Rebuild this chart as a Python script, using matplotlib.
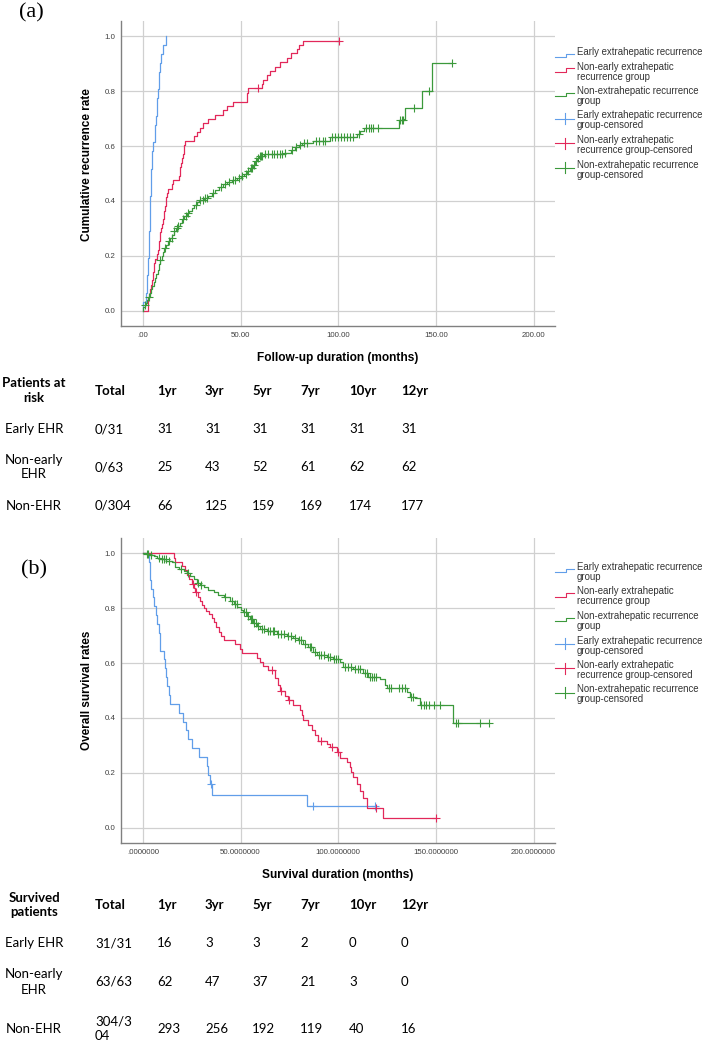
import numpy as np
import matplotlib
matplotlib.use('Agg')
import matplotlib.pyplot as plt
from matplotlib.lines import Line2D

# ---- (a) cumulative recurrence, step points ----
early_a_t = [0, 0.3, 1.5, 2.0, 2.2, 2.5, 2.7, 2.9, 3.1, 3.3, 3.5, 3.6, 3.8, 3.9, 4.0, 4.2,
             4.4, 4.5, 4.6, 5.4, 6.0, 6.3, 6.6, 7.0, 7.3, 7.6, 8.0, 8.5, 8.9, 9.1, 10.4, 11.6]
early_a_v = [0.0, 0.032, 0.065, 0.097, 0.129, 0.161, 0.194, 0.226, 0.258, 0.29, 0.323, 0.355,
             0.387, 0.419, 0.452, 0.484, 0.516, 0.548, 0.581, 0.613, 0.645, 0.677, 0.71, 0.742,
             0.774, 0.806, 0.839, 0.871, 0.903, 0.935, 0.968, 1.0]
early_a_cens = []

nonearly_a_t = [0, 2.4, 2.6, 2.8, 3.0, 3.4, 4.0, 4.5, 5.0, 5.2, 5.5, 5.8, 6.0, 7.0, 7.6, 8.0,
                8.4, 8.6, 8.9, 9.3, 9.9, 10.3, 10.6, 11.0, 11.3, 11.6, 12.0, 12.4, 13.0, 14.7,
                15.2, 18.5, 18.8, 19.1, 19.5, 19.8, 20.3, 20.8, 21.2, 21.6, 26.3, 27.8, 29.2,
                30.9, 33.5, 36.9, 41.2, 43.0, 46.3, 53.2, 53.5, 54.0, 60.9, 61.5, 63.4, 65.1,
                67.7, 70.3, 74.0, 76.0, 78.8, 80.0, 82.2, 100.2]
nonearly_a_v = [0.0, 0.016, 0.032, 0.048, 0.063, 0.079, 0.095, 0.111, 0.127, 0.143, 0.159,
                0.175, 0.19, 0.206, 0.222, 0.238, 0.254, 0.27, 0.286, 0.302, 0.317, 0.333,
                0.349, 0.365, 0.381, 0.397, 0.413, 0.429, 0.444, 0.46, 0.476, 0.492, 0.508,
                0.524, 0.54, 0.556, 0.571, 0.587, 0.603, 0.619, 0.635, 0.651, 0.667, 0.683,
                0.698, 0.714, 0.73, 0.746, 0.762, 0.778, 0.794, 0.81, 0.826, 0.842, 0.857,
                0.873, 0.889, 0.905, 0.921, 0.937, 0.952, 0.968, 0.984, 0.984]
nonearly_a_cens = [59.1, 100.2]

non_a_t = [0, 0.3, 1.0, 1.5, 2.2, 2.8, 3.5, 4.2, 4.8, 5.5, 6.2, 6.8, 7.5, 8.2, 8.8, 9.6, 10.3,
           11.0, 12.0, 12.8, 13.8, 14.8, 15.8, 17.0, 18.0, 19.0, 20.0, 21.0, 22.5, 23.5, 25.0,
           26.3, 27.5, 28.8, 31.5, 33.5, 35.5, 37.0, 38.8, 41.0, 43.0, 45.5, 48.0, 50.0, 52.0,
           53.5, 55.0, 56.5, 57.5, 58.5, 59.5, 62.0, 72.0, 76.0, 78.0, 80.0, 81.5, 87.0, 95.9,
           109.5, 111.3, 113.0, 131.0, 133.5, 134.4, 142.9, 148.0, 158.3]
non_a_v = [0.0, 0.013, 0.02, 0.03, 0.04, 0.05, 0.065, 0.08, 0.09, 0.105, 0.12, 0.135, 0.15,
           0.17, 0.185, 0.2, 0.215, 0.23, 0.24, 0.255, 0.265, 0.275, 0.29, 0.3, 0.31, 0.32,
           0.335, 0.345, 0.355, 0.365, 0.375, 0.385, 0.395, 0.405, 0.41, 0.418, 0.43, 0.44,
           0.452, 0.46, 0.468, 0.478, 0.485, 0.49, 0.5, 0.51, 0.52, 0.532, 0.545, 0.556, 0.565,
           0.57, 0.576, 0.585, 0.595, 0.605, 0.612, 0.62, 0.634, 0.645, 0.655, 0.664, 0.695,
           0.70, 0.737, 0.80, 0.903, 0.903]
non_a_cens = [1.2, 3.0, 9.0, 11.5, 13.3, 14.7, 16.0, 17.5, 18.2, 20.5, 22.0, 23.0, 27.0, 29.5,
              31.0, 32.0, 33.0, 36.0, 40.0, 42.0, 44.0, 46.0, 47.0, 49.0, 51.0, 53.0, 54.0,
              55.5, 56.0, 57.0, 58.0, 59.0, 60.0, 60.5, 61.0, 62.5, 64.0, 66.0, 67.0, 68.5,
              70.0, 71.0, 73.0, 76.5, 78.5, 80.5, 82.5, 84.0, 88.5, 90.0, 92.0, 93.5, 97.0,
              98.5, 100.0, 101.5, 103.0, 104.5, 106.0, 107.5, 110.5, 114.0, 116.0, 117.0,
              118.0, 120.5, 131.5, 132.5, 133.0, 139.0, 146.5, 158.3]

# ---- (b) overall survival ----
early_b_t = [0, 3.1, 3.4, 3.7, 4.3, 5.0, 5.6, 6.5, 7.3, 8.1, 8.6, 9.0, 10.7, 11.3, 11.8,
             12.6, 13.3, 13.8, 18.6, 20.7, 22.1, 23.3, 25.0, 28.9, 32.6, 33.5, 34.4, 35.2,
             83.9, 118.9]
early_b_v = [1.0, 0.968, 0.935, 0.903, 0.871, 0.839, 0.806, 0.774, 0.742, 0.71, 0.677, 0.645,
             0.613, 0.581, 0.548, 0.516, 0.484, 0.452, 0.419, 0.387, 0.355, 0.323, 0.29,
             0.258, 0.226, 0.194, 0.161, 0.121, 0.081, 0.081]
early_b_cens = [35.0, 87.3, 118.9]

nonearly_b_t = [0, 15.8, 16.3, 20.1, 21.5, 22.6, 23.5, 25.2, 26.0, 26.9, 28.0, 29.4, 30.3,
                31.4, 32.5, 34.0, 35.4, 36.2, 37.4, 38.8, 40.0, 41.3, 47.3, 49.8, 50.7, 58.4,
                60.0, 61.7, 64.3, 67.7, 69.4, 70.3, 72.8, 74.5, 77.0, 80.5, 81.3, 82.1, 84.7,
                86.4, 88.1, 89.8, 94.1, 95.8, 99.2, 100.9, 104.3, 106.0, 106.8, 107.7, 109.4,
                111.1, 112.8, 114.5, 123.0, 150.0]
nonearly_b_v = [1.0, 0.984, 0.968, 0.952, 0.937, 0.921, 0.905, 0.889, 0.873, 0.857, 0.841,
                0.825, 0.81, 0.80, 0.79, 0.778, 0.765, 0.749, 0.73, 0.712, 0.70, 0.685, 0.668,
                0.652, 0.636, 0.62, 0.604, 0.59, 0.574, 0.545, 0.52, 0.50, 0.479, 0.465,
                0.447, 0.429, 0.41, 0.392, 0.374, 0.356, 0.338, 0.318, 0.306, 0.294, 0.278,
                0.256, 0.241, 0.222, 0.205, 0.187, 0.16, 0.133, 0.11, 0.072, 0.036, 0.036]
nonearly_b_cens = [25.8, 27.3, 66.0, 70.5, 75.0, 91.0, 97.0, 100.0, 119.6, 150.0]

non_b_t = [0, 1.5, 3.0, 5.6, 7.0, 9.0, 12.0, 15.0, 16.5, 18.4, 20.9, 22.5, 24.3, 26.0, 27.7,
           29.5, 31.1, 33.5, 36.2, 38.5, 41.3, 44.7, 46.5, 48.2, 50.0, 51.5, 53.3, 54.9, 56.6,
           58.4, 60.0, 63.5, 68.6, 73.7, 77.0, 79.6, 82.1, 84.7, 87.2, 89.0, 94.1, 97.4,
           100.9, 102.6, 107.7, 112.8, 115.3, 121.3, 124.0, 125.0, 135.0, 136.6, 139.2, 141.7,
           158.7, 177.4]
non_b_v = [1.0, 0.997, 0.993, 0.99, 0.984, 0.978, 0.972, 0.966, 0.95, 0.942, 0.936, 0.927,
           0.918, 0.905, 0.893, 0.884, 0.875, 0.866, 0.857, 0.848, 0.839, 0.827, 0.815, 0.803,
           0.794, 0.785, 0.772, 0.761, 0.745, 0.735, 0.725, 0.718, 0.707, 0.698, 0.692, 0.682,
           0.67, 0.658, 0.64, 0.628, 0.622, 0.616, 0.604, 0.586, 0.58, 0.562, 0.549, 0.543,
           0.519, 0.51, 0.495, 0.477, 0.471, 0.447, 0.383, 0.383]
non_b_cens = [2.0, 2.6, 4.0, 8.0, 10.0, 11.0, 11.6, 13.5, 19.5, 23.0, 28.0, 30.0, 42.0, 45.5,
              47.0, 48.0, 52.0, 53.0, 54.0, 55.5, 56.0, 57.0, 58.0, 59.0, 61.0, 62.0, 64.0,
              65.0, 66.5, 67.0, 69.0, 70.5, 72.0, 74.5, 76.0, 78.0, 80.0, 81.0, 83.0, 85.5,
              86.0, 88.0, 90.0, 91.0, 92.5, 95.0, 96.0, 98.0, 99.0, 100.0, 103.5, 105.0,
              106.5, 108.5, 110.0, 111.0, 113.5, 114.5, 116.5, 117.5, 118.5, 119.5, 126.0,
              127.0, 131.0, 132.5, 134.0, 137.5, 138.5, 142.5, 144.0, 145.0, 146.5, 149.0,
              152.0, 160.5, 161.5, 172.5, 177.4]

# ---- tick labels / legends / tables ----
x_ticks = [0, 50, 100, 150, 200]
x_labels_a = [".00", "50.00", "100.00", "150.00", "200.00"]
x_labels_b = [".0000000", "50.0000000", "100.0000000", "150.0000000", "200.0000000"]
y_ticks = [0.0, 0.2, 0.4, 0.6, 0.8, 1.0]
y_labels = ["0.0", "0.2", "0.4", "0.6", "0.8", "1.0"]

legend_a = ["Early extrahepatic recurrence",
            "Non-early extrahepatic\nrecurrence group",
            "Non-extrahepatic recurrence\ngroup",
            "Early extrahepatic recurrence\ngroup-censored",
            "Non-early extrahepatic\nrecurrence group-censored",
            "Non-extrahepatic recurrence\ngroup-censored"]
legend_b = ["Early extrahepatic recurrence\ngroup"] + legend_a[1:]

table_cols = ["Total", "1yr", "3yr", "5yr", "7yr", "10yr", "12yr"]
row_names = ["Early EHR", "Non-early\nEHR", "Non-EHR"]
risk_total = ["0/31", "0/63", "0/304"]
risk_counts = [[31, 31, 31, 31, 31, 31],
               [25, 43, 52, 61, 62, 62],
               [66, 125, 159, 169, 174, 177]]
surv_total = ["31/31", "63/63", "304/3\n04"]
surv_counts = [[16, 3, 3, 2, 0, 0],
               [62, 47, 37, 21, 3, 0],
               [293, 256, 192, 119, 40, 16]]

BLUE, RED, GREEN = "#619ee9", "#e2285a", "#3b993b"
W, H = 708, 1044
SANS = "Liberation Sans"


def fx(px):
    return px / W


def fy(py):
    return 1 - py / H


def level_at(t, v, times):
    idx = np.searchsorted(np.asarray(t), np.asarray(times), side="right") - 1
    return np.asarray(v)[idx]


def km_panel(ax, curves, xlabels, xlabel, ylabel, ylab_y):
    for t, v, cens, color in curves:
        ax.step(t, v, where="post", color=color, lw=0.9, zorder=3)
        if cens:
            ax.plot(cens, level_at(t, v, cens), "+", color=color, ms=5.5, mew=0.8, zorder=4)
    ax.set_xlim(-11.2, 211)
    ax.set_ylim(-0.055, 1.055)
    ax.set_xticks(x_ticks)
    ax.set_xticklabels(xlabels, fontfamily=SANS)
    ax.set_yticks(y_ticks)
    ax.set_yticklabels(y_labels, fontfamily=SANS)
    ax.tick_params(length=0, pad=4, labelsize=5.7, colors="#404040")
    ax.grid(True, color="#d0d0d0", lw=0.9)
    ax.set_axisbelow(True)
    for s in ["top", "right"]:
        ax.spines[s].set_visible(False)
    for s in ["left", "bottom"]:
        ax.spines[s].set_color("#808080")
        ax.spines[s].set_linewidth(1.0)
    ax.set_xlabel(xlabel, fontfamily=SANS, fontweight="bold", fontsize=8.6, va="center")
    ax.xaxis.set_label_coords(0.5, -0.105)
    ax.set_ylabel(ylabel, fontfamily=SANS, fontweight="bold", fontsize=8.5, va="center")
    ax.yaxis.set_label_coords(-0.078, ylab_y)


def draw_key(fig, labels, colors, y_first):
    # manual key: step glyph for curves, line with a plus for censored marks
    y = y_first
    for i, lab in enumerate(labels):
        lines = lab.split("\n")
        for k, line in enumerate(lines):
            fig.text(fx(577), fy(y + 10 * k), line, fontsize=6.9, fontfamily=SANS,
                     color="#333333", ha="left", va="center")
        c = colors[i % 3]
        if i < 3:
            fig.add_artist(Line2D([fx(555), fx(566), fx(566), fx(574)],
                                  [fy(y + 5), fy(y + 5), fy(y + 1.5), fy(y + 1.5)],
                                  color=c, lw=0.8, transform=fig.transFigure))
        else:
            fig.add_artist(Line2D([fx(555), fx(574)], [fy(y + 3), fy(y + 3)],
                                  color=c, lw=0.8, transform=fig.transFigure))
            fig.add_artist(Line2D([fx(565), fx(565)], [fy(y - 2.5), fy(y + 8.5)],
                                  color=c, lw=0.8, transform=fig.transFigure))
        y += 10 * len(lines) + 4.5


def draw_table(fig, title, totals, counts, y_head, y_rows):
    col_x = [95, 157, 205, 252, 300, 349, 401]
    fig.text(fx(34), fy(y_head), title, fontfamily="Lato", fontweight="bold", fontsize=9.5,
             ha="center", va="center", linespacing=1.3)
    for x, c in zip(col_x, table_cols):
        fig.text(fx(x), fy(y_head), c, fontfamily="Lato", fontweight="bold", fontsize=9.5,
                 ha="left", va="center")
    for r, yr in enumerate(y_rows):
        fig.text(fx(34), fy(yr), row_names[r], fontfamily="Lato", fontsize=9.5,
                 ha="center", va="center", linespacing=1.3, multialignment="center")
        fig.text(fx(col_x[0]), fy(yr), totals[r], fontfamily="Lato", fontsize=9.5,
                 ha="left", va="center", linespacing=1.25)
        for x, n in zip(col_x[1:], counts[r]):
            fig.text(fx(x), fy(yr), str(n), fontfamily="Lato", fontsize=9.5,
                     ha="left", va="center")


fig = plt.figure(figsize=(W / 100, H / 100), dpi=100)

ax_a = fig.add_axes([fx(121), fy(326), 434 / W, 305 / H])
km_panel(ax_a,
         [(early_a_t, early_a_v, early_a_cens, BLUE),
          (nonearly_a_t, nonearly_a_v, nonearly_a_cens, RED),
          (non_a_t, non_a_v, non_a_cens, GREEN)],
         x_labels_a, "Follow-up duration (months)", "Cumulative recurrence rate", 0.53)

ax_b = fig.add_axes([fx(121), fy(843), 434 / W, 305 / H])
km_panel(ax_b,
         [(early_b_t, early_b_v, early_b_cens, BLUE),
          (nonearly_b_t, nonearly_b_v, nonearly_b_cens, RED),
          (non_b_t, non_b_v, non_b_cens, GREEN)],
         x_labels_b, "Survival duration (months)", "Overall survival rates", 0.5)

draw_key(fig, legend_a, [BLUE, RED, GREEN], 52)
draw_key(fig, legend_b, [BLUE, RED, GREEN], 567)

draw_table(fig, "Patients at\nrisk", risk_total, risk_counts, 391, [429, 467, 506])
draw_table(fig, "Survived\npatients", surv_total, surv_counts, 905, [943, 982, 1029])

fig.text(fx(31), fy(13), "(a)", fontfamily="Liberation Serif", fontsize=16,
         ha="center", va="center")
fig.text(fx(34), fy(570), "(b)", fontfamily="Liberation Serif", fontsize=16,
         ha="center", va="center")

fig.savefig("out.png", dpi=100)
